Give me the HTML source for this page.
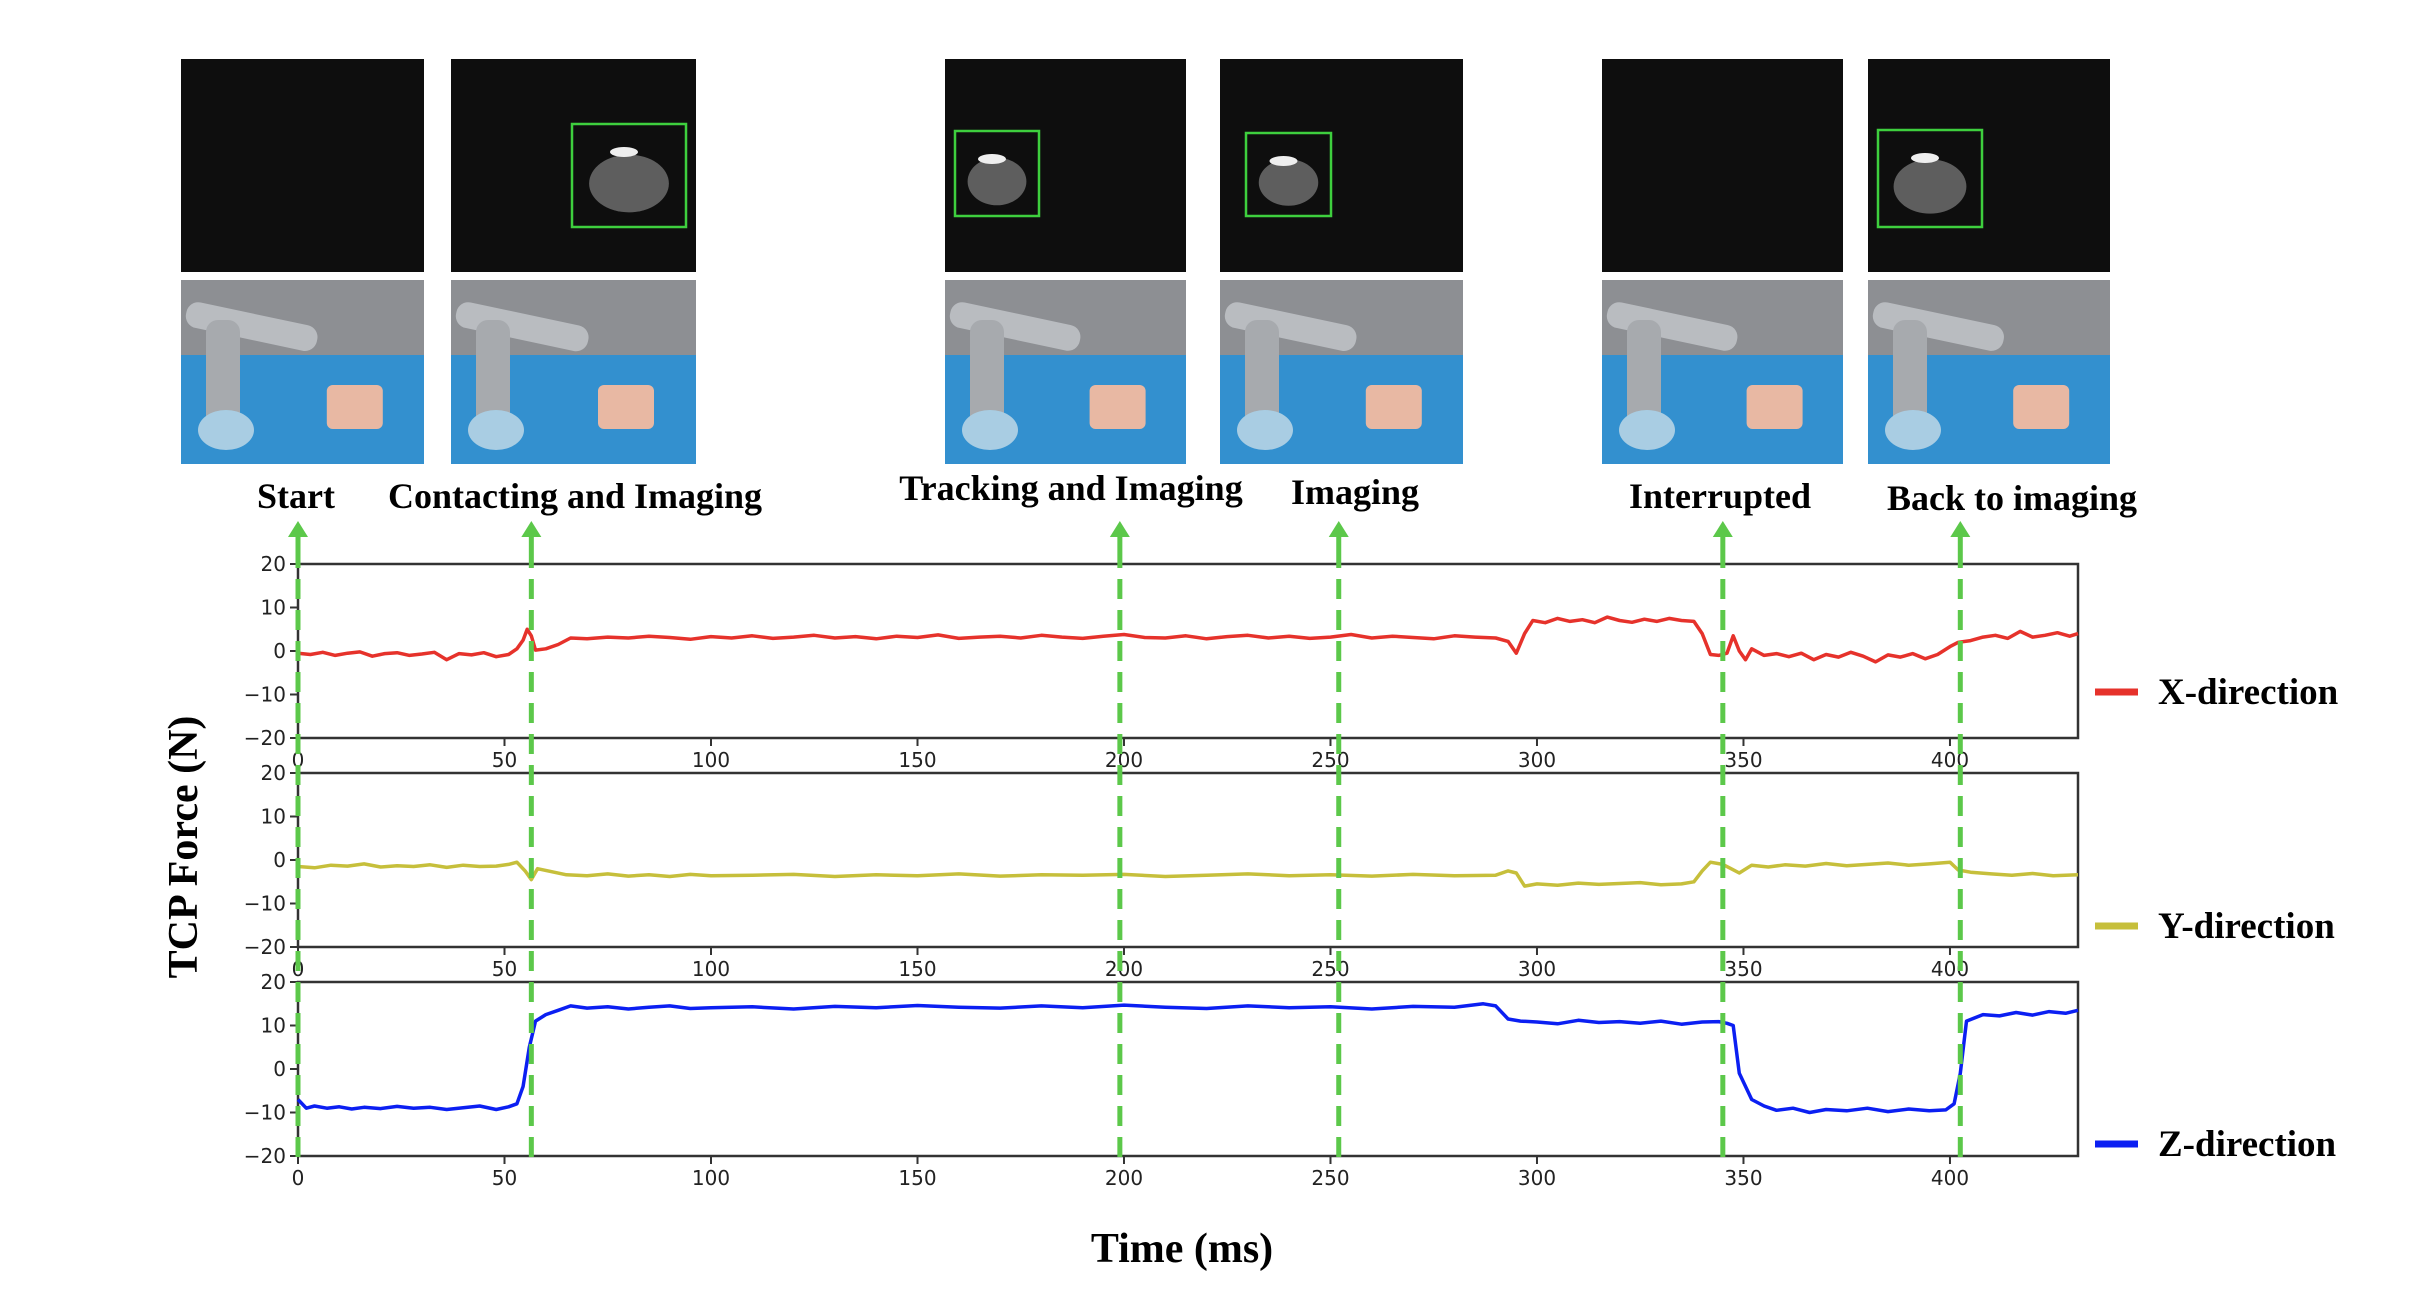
<!DOCTYPE html>
<html><head><meta charset="utf-8"><style>
html,body{margin:0;padding:0;background:#fff}
svg{display:block}
.tk{font-family:"DejaVu Sans","Liberation Sans",sans-serif;font-size:20px;fill:#222}
.lb{font-family:"Liberation Serif",serif;font-weight:bold;font-size:36px;fill:#000}
.lg{font-family:"Liberation Serif",serif;font-weight:bold;font-size:37px;fill:#000}
</style></head><body>
<svg id="fig" width="2426" height="1298" viewBox="0 0 2426 1298" xmlns="http://www.w3.org/2000/svg">
<g id="photos"></g>
<g id="labels">
<text class="lb" x="296" y="508" text-anchor="middle">Start</text>
<text class="lb" x="575" y="508" text-anchor="middle">Contacting and Imaging</text>
<text class="lb" x="1071" y="500" text-anchor="middle">Tracking and Imaging</text>
<text class="lb" x="1355" y="504" text-anchor="middle">Imaging</text>
<text class="lb" x="1720" y="508" text-anchor="middle">Interrupted</text>
<text class="lb" x="2012" y="510" text-anchor="middle">Back to imaging</text>
</g>
<g id="plots"></g>
<text class="lb" transform="translate(197,847) rotate(-90)" text-anchor="middle" style="font-size:42px">TCP Force (N)</text>
<text class="lb" x="1182" y="1262" text-anchor="middle" style="font-size:42px">Time (ms)</text>
</svg>
<script>
// ---- data ----
const yTicks=[20,10,0,-10,-20];
const yTickLabels=["20","10","0","\u221210","\u221220"];
const xTicks=[0,50,100,150,200,250,300,350,400];
const eventTimes=[0,56.5,199,252,345,402.5];
const seriesNames=["X-direction","Y-direction","Z-direction"];
const xT=[0,3,6,9,12,15,18,21,24,27,30,33,36,39,42,45,48,51,53,54.5,55.5,56.5,57.5,60,63,66,70,75,80,85,90,95,100,105,110,115,120,125,130,135,140,145,150,155,160,165,170,175,180,185,190,195,200,205,210,215,220,225,230,235,240,245,250,255,260,265,270,275,280,285,290,293,295,297,299,302,305,308,311,314,317,320,323,326,329,332,335,338,340,342,344,346,347.5,349,350.5,352,355,358,361,364,367,370,373,376,379,382,385,388,391,394,397,400,402,405,408,411,414,417,420,423,426,429,431];
const xV=[-0.5,-0.8,-0.3,-1,-0.5,-0.2,-1.2,-0.6,-0.4,-1,-0.7,-0.3,-2,-0.6,-0.9,-0.4,-1.3,-0.8,0.5,2.5,5,3.5,0.2,0.5,1.5,3,2.8,3.2,3,3.4,3.1,2.7,3.3,3,3.5,2.9,3.2,3.6,3,3.3,2.8,3.4,3.1,3.7,2.9,3.2,3.4,3,3.6,3.2,2.9,3.4,3.8,3.1,3,3.5,2.8,3.3,3.6,3,3.4,2.9,3.2,3.8,3,3.4,3.1,2.8,3.5,3.2,3,2.2,-0.5,4,7,6.5,7.5,6.8,7.2,6.5,7.8,7,6.6,7.3,6.8,7.5,7,6.8,4,-0.8,-1,-0.5,3.5,0,-2,0.5,-1,-0.6,-1.3,-0.5,-2,-0.8,-1.4,-0.3,-1.2,-2.5,-0.9,-1.4,-0.6,-1.8,-0.8,1,2,2.4,3.2,3.6,2.9,4.5,3.2,3.6,4.2,3.4,4];
const yT=[0,4,8,12,16,20,24,28,32,36,40,44,48,51,53,55,56.5,58,61,65,70,75,80,85,90,95,100,110,120,130,140,150,160,170,180,190,200,210,220,230,240,250,260,270,280,290,293,295,297,300,305,310,315,320,325,330,335,338,340,342,345,347,349,352,356,360,365,370,375,380,385,390,395,400,402,405,410,415,420,425,431];
const yV=[-1.5,-1.8,-1.2,-1.4,-0.9,-1.6,-1.3,-1.5,-1.1,-1.7,-1.2,-1.5,-1.4,-1,-0.5,-2.5,-4.5,-2,-2.6,-3.4,-3.6,-3.2,-3.7,-3.4,-3.8,-3.3,-3.6,-3.5,-3.3,-3.8,-3.4,-3.6,-3.2,-3.7,-3.4,-3.5,-3.3,-3.8,-3.5,-3.2,-3.6,-3.4,-3.7,-3.3,-3.6,-3.5,-2.5,-3,-6,-5.5,-5.8,-5.3,-5.6,-5.4,-5.2,-5.7,-5.5,-5,-2.5,-0.5,-1,-2,-3,-1.2,-1.6,-1.1,-1.4,-0.8,-1.3,-1,-0.7,-1.2,-0.9,-0.5,-2.3,-2.8,-3.2,-3.5,-3.1,-3.6,-3.4];
const zT=[0,2,4,7,10,13,16,20,24,28,32,36,40,44,48,51,53,54.5,56,57.5,60,63,66,70,75,80,85,90,95,100,110,120,130,140,150,160,170,180,190,200,210,220,230,240,250,260,270,280,287,290,293,296,300,305,310,315,320,325,330,335,340,344,346,347.5,349,352,355,358,362,366,370,375,380,385,390,395,399,401,402.5,404,408,412,416,420,424,428,431];
const zV=[-7,-9,-8.5,-9,-8.7,-9.2,-8.8,-9.1,-8.6,-9,-8.8,-9.3,-8.9,-8.5,-9.3,-8.7,-8,-4,5,11,12.5,13.5,14.5,14,14.3,13.8,14.2,14.5,13.9,14.1,14.3,13.8,14.4,14.1,14.6,14.2,14,14.5,14.1,14.7,14.2,13.9,14.5,14.1,14.3,13.8,14.4,14.2,15,14.5,11.5,11,10.8,10.4,11.2,10.7,10.9,10.5,11,10.3,10.8,10.9,10.5,10,-1,-7,-8.5,-9.5,-9,-10,-9.3,-9.6,-9,-9.8,-9.2,-9.6,-9.4,-8,-1,11,12.5,12.2,13,12.4,13.2,12.8,13.5];
const seriesT=[xT,yT,zT];
const seriesV=[xV,yV,zV];
// ---- layout ----
const NS="http://www.w3.org/2000/svg";
const svg=document.getElementById('fig');
const plots=document.getElementById('plots');
const L=298,R=2078,X0=0,X1=431;
const panelTops=[564,773,982],PH=174;
const colors=["#e6322b","#c6bf3b","#0b1ff2"];
const legY=[692,926,1144];
function sx(v){return L+(v-X0)/(X1-X0)*(R-L);}
function mk(tag,attrs,parent){const e=document.createElementNS(NS,tag);for(const k in attrs)e.setAttribute(k,attrs[k]);(parent||svg).appendChild(e);return e;}
for(let p=0;p<3;p++){
  const top=panelTops[p];
  const sy=v=>top+(20-v)/40*PH;
  const g=mk('g',{},plots);
  
  
  const fr=mk('rect',{x:L,y:top,width:R-L,height:PH,fill:'none',stroke:'#333','stroke-width':2.5},g);
  
  
  yTicks.forEach((t,i)=>{
    mk('line',{x1:L-8,x2:L,y1:sy(t),y2:sy(t),stroke:'#333','stroke-width':2},g);
    const tx=mk('text',{x:L-12,y:sy(t)+7,'text-anchor':'end',class:'tk'},g);
    tx.textContent=yTickLabels[i];
    
    
  });
  xTicks.forEach(t=>{
    mk('line',{x1:sx(t),x2:sx(t),y1:top+PH,y2:top+PH+8,stroke:'#333','stroke-width':2},g);
    const tx=mk('text',{x:sx(t),y:top+PH+29,'text-anchor':'middle',class:'tk'},g);
    tx.textContent=String(t);
    
    
  });
  const T=seriesT[p],V=seriesV[p];
  let d='';
  for(let i=0;i<T.length;i++)d+=(i?'L':'M')+sx(T[i]).toFixed(1)+' '+sy(V[i]).toFixed(1);
  const ln=mk('path',{d:d,fill:'none',stroke:colors[p],'stroke-width':3.5,'stroke-linejoin':'round'},g);
  
  
  const lg=mk('g',{},svg);
  
  
  mk('line',{x1:2095,x2:2138,y1:legY[p],y2:legY[p],stroke:colors[p],'stroke-width':7},lg);
  const lt=mk('text',{x:2158,y:legY[p]+12,class:'lg'},lg);
  lt.textContent=seriesNames[p];
}
// event markers
eventTimes.forEach(t=>{
  const x=sx(t);
  const g=mk('g',{},svg);
  
  
  mk('line',{x1:x,x2:x,y1:548,y2:1160,stroke:'#5cc84a','stroke-width':5,'stroke-dasharray':'20 11'},g);
  mk('polygon',{points:`${x-10},${537} ${x+10},${537} ${x},${521}`,fill:'#5cc84a'},g);
  mk('rect',{x:x-2.5,y:536,width:5,height:12,fill:'#5cc84a'},g);
});
// photos
const ph=document.getElementById('photos');
const cols=[[181,424],[451,696],[945,1186],[1220,1463],[1602,1843],[1868,2110]];
const boxes=[null,[572,124,686,227],[955,131,1039,216],[1246,133,1331,216],null,[1878,130,1982,227]];
cols.forEach((c,i)=>{
  const w=c[1]-c[0];
  const us=mk('rect',{x:c[0],y:59,width:w,height:213,fill:'#0e0e0e'},ph);
  
  
  const b=boxes[i];
  if(b){
    mk('ellipse',{cx:(b[0]+b[2])/2,cy:(b[1]+b[3])/2+8,rx:(b[2]-b[0])*0.35,ry:(b[3]-b[1])*0.28,fill:'#5e5e5e'},ph);
    mk('ellipse',{cx:(b[0]+b[2])/2-5,cy:b[1]+28,rx:14,ry:5,fill:'#eee'},ph);
    mk('rect',{x:b[0],y:b[1],width:b[2]-b[0],height:b[3]-b[1],fill:'none',stroke:'#3ecf3e','stroke-width':2.5},ph);
  }
  const pg=mk('g',{},ph);
  
  
  mk('rect',{x:c[0],y:280,width:w,height:184,fill:'#8d8f93'},pg);
  mk('rect',{x:c[0],y:355,width:w,height:109,fill:'#3390cf'},pg);
  mk('rect',{x:c[0]+8,y:300,width:w*0.55,height:26,rx:12,fill:'#b9bcc0',transform:`rotate(12 ${c[0]+8} 300)`},pg);
  mk('rect',{x:c[0]+25,y:320,width:34,height:110,rx:12,fill:'#a7aaae'},pg);
  mk('ellipse',{cx:c[0]+45,cy:430,rx:28,ry:20,fill:'#a9cde3'},pg);
  mk('rect',{x:c[0]+w*0.6,y:385,width:56,height:44,rx:6,fill:'#e8b8a3'},pg);
});
</script>
</body></html>
